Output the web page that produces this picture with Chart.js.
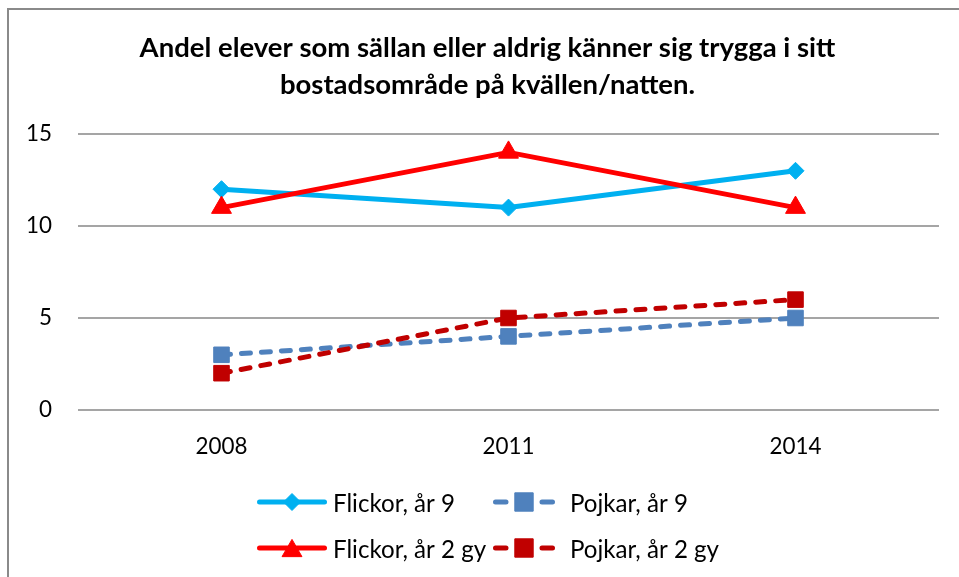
<!DOCTYPE html>
<html><head><meta charset="utf-8">
<script src="https://cdn.jsdelivr.net/npm/chart.js@4/dist/chart.umd.min.js"></script>
<style>
html,body{margin:0;padding:0;overflow:hidden;background:#fff;}
#frame{position:absolute;left:7px;top:8px;width:1100px;height:700px;border:2px solid #8a8a8a;box-sizing:border-box;}
#wrap{position:absolute;left:0;top:0;width:959px;height:577px;}
</style></head><body>
<div id="frame"></div>
<div id="wrap"><canvas id="c" width="959" height="577"></canvas></div>
<script>
// ---- data ----
const categories = ['2008', '2011', '2014'];
const seriesNames = ['Flickor, år 9', 'Pojkar, år 9', 'Flickor, år 2 gy', 'Pojkar, år 2 gy'];
const flickorAr9 = [12, 11, 13];
const pojkarAr9 = [3, 4, 5];
const flickorAr2gy = [11, 14, 11];
const pojkarAr2gy = [2, 5, 6];
const yTicks = [0, 5, 10, 15];
const titleLines = ['Andel elever som sällan eller aldrig känner sig trygga i sitt', 'bostadsområde på kvällen/natten.'];

// ---- styles ----
const FAMILY = 'Lato';
const colors = ['#00B0F0', '#4F81BD', '#FF0000', '#C00000'];
const markers = ['rectRot', 'rect', 'triangle', 'rect'];
const radii = [8.5, 11, 11.5, 11];
const dashed = [false, true, false, true];

function fit(text, weight, target) {
  const c = document.createElement('canvas').getContext('2d');
  c.font = weight + ' 100px ' + FAMILY;
  return 100 * target / c.measureText(text).width;
}
const titleSize = fit(titleLines[0], 'bold', 696);
const tickSize = fit('2008', 'normal', 52);
const legendSize = fit(seriesNames[0], 'normal', 122);

const seriesData = [flickorAr9, pojkarAr9, flickorAr2gy, pojkarAr2gy];
const datasets = seriesNames.map((name, i) => ({
  label: name,
  data: seriesData[i],
  borderColor: colors[i],
  backgroundColor: colors[i],
  borderWidth: 5,
  borderDash: dashed[i] ? [9, 11] : [],
  borderCapStyle: 'round',
  borderJoinStyle: 'round',
  pointStyle: markers[i],
  pointRadius: radii[i],
  pointHoverRadius: radii[i],
  pointBackgroundColor: colors[i],
  pointBorderColor: colors[i],
  pointBorderWidth: 1,
  tension: 0,
  order: 4 - i
}));

function drawMarker(ctx, style, x, y, r, color) {
  ctx.save();
  ctx.fillStyle = color; ctx.strokeStyle = color; ctx.lineWidth = 1; ctx.setLineDash([]);
  ctx.beginPath();
  if (style === 'rectRot') {
    ctx.moveTo(x - r, y); ctx.lineTo(x, y - r); ctx.lineTo(x + r, y); ctx.lineTo(x, y + r);
  } else if (style === 'rect') {
    const s = r * Math.SQRT1_2;
    ctx.rect(x - s, y - s, 2 * s, 2 * s);
  } else {
    const h = 1.5 * r, w = 0.866 * r;
    ctx.moveTo(x, y - h / 2); ctx.lineTo(x + w, y + h / 2); ctx.lineTo(x - w, y + h / 2);
  }
  ctx.closePath(); ctx.fill(); ctx.stroke();
  ctx.restore();
}

const titlePlugin = {
  id: 'centeredTitle',
  afterDraw(chart) {
    const ctx = chart.ctx;
    ctx.save();
    ctx.fillStyle = '#000';
    ctx.font = 'bold ' + titleSize + 'px ' + FAMILY;
    ctx.textAlign = 'center';
    ctx.textBaseline = 'middle';
    titleLines.forEach((line, i) => ctx.fillText(line, 487.5, 48 + i * 37));
    ctx.restore();
  }
};

const legendPlugin = {
  id: 'gridLegend',
  afterDraw(chart) {
    const ctx = chart.ctx;
    const rows = [502, 548];
    const cols = [{x0: 257, x1: 327, text: 333}, {x0: 493, x1: 555, text: 570}];
    seriesNames.forEach((name, i) => {
      const col = cols[i % 2], y = rows[Math.floor(i / 2)];
      ctx.save();
      ctx.strokeStyle = colors[i]; ctx.lineWidth = 5; ctx.lineCap = 'round';
      ctx.beginPath();
      if (dashed[i]) {
        ctx.moveTo(col.x0 + 2.5, y); ctx.lineTo(col.x0 + 13, y);
        ctx.moveTo(col.x1 - 13, y); ctx.lineTo(col.x1 - 2.5, y);
      } else {
        ctx.moveTo(col.x0 + 2.5, y); ctx.lineTo(col.x1 - 2.5, y);
      }
      ctx.stroke();
      ctx.restore();
      drawMarker(ctx, markers[i], (col.x0 + col.x1) / 2, y, dashed[i] ? 13 : radii[i], colors[i]);
      ctx.save();
      ctx.fillStyle = '#000';
      ctx.font = legendSize + 'px ' + FAMILY;
      ctx.textBaseline = 'middle';
      ctx.textAlign = 'left';
      ctx.fillText(name, col.text, y + 2);
      ctx.restore();
    });
  }
};

new Chart(document.getElementById('c'), {
  type: 'line',
  data: { labels: categories, datasets },
  plugins: [titlePlugin, legendPlugin],
  options: {
    responsive: false,
    animation: false,
    devicePixelRatio: 1,
    layout: { padding: { left: 0, right: 20, top: 134, bottom: 0 } },
    plugins: {
      legend: { display: false },
      tooltip: { enabled: false },
      title: { display: false }
    },
    scales: {
      x: {
        offset: true,
        grid: { display: false, drawTicks: false },
        border: { display: false },
        ticks: { color: '#000', font: { family: FAMILY, size: tickSize }, padding: 23, maxRotation: 0 },
        afterFit(s) { s.height = 167; }
      },
      y: {
        min: 0, max: 15,
        afterBuildTicks(s) { s.ticks = yTicks.map(v => ({ value: v })); },
        grid: { color: '#a5a5a5', lineWidth: 2, drawTicks: false },
        border: { display: false },
        ticks: { color: '#000', font: { family: FAMILY, size: tickSize }, padding: 26 },
        afterFit(s) { s.width = 78; }
      }
    }
  }
});
</script>
</body></html>
